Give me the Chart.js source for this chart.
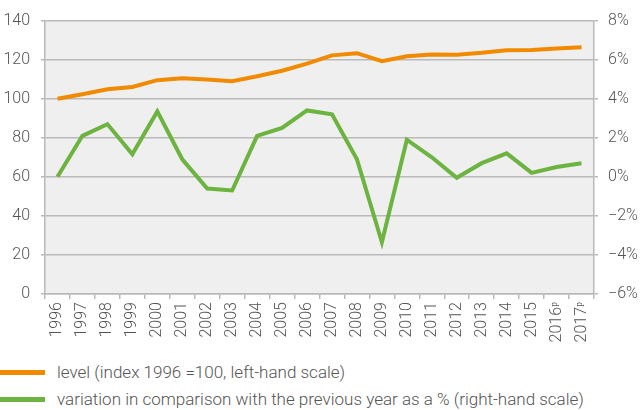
<!DOCTYPE html>
<html>
<head>
<meta charset="utf-8">
<script src="https://cdn.jsdelivr.net/npm/chart.js@4"></script>
<style>
    body { margin: 0; background: #fff; font-family: Roboto, sans-serif; }
    #wrap { position: relative; width: 643px; height: 355px; }
    .legend { position: absolute; left: 0; height: 20px; line-height: 20px; font-size: 17px; color: #555; font-weight: 300; white-space: nowrap; }
    .legend .sw { position: absolute; left: 0; top: 8px; width: 45px; height: 5px; }
    .legend .tx { position: absolute; left: 57px; top: 0; }
</style>
</head>
<body>
<div id="wrap"><canvas id="chart" width="643" height="355"></canvas></div>
<div class="legend" style="top:362px"><span class="sw" style="background:#f28a00"></span><span class="tx">level (index 1996 =100, left-hand scale)</span></div>
<div class="legend" style="top:389px"><span class="sw" style="background:#6cb33f"></span><span class="tx">variation in comparison with the previous year as a % (right-hand scale)</span></div>
<script>
// ===== Index level vs yearly variation =====
const years = ['1996', '1997', '1998', '1999', '2000', '2001', '2002', '2003', '2004', '2005', '2006',
    '2007', '2008', '2009', '2010', '2011', '2012', '2013', '2014', '2015', '2016\u1D56', '2017\u1D56'];
const levelIndex = [100, 102.3, 104.8, 106, 109.5, 110.5, 109.8, 109, 111.5, 114.3, 118,
    122.2, 123.3, 119.2, 121.7, 122.7, 122.5, 123.5, 124.8, 125, 125.7, 126.3];
const variationPct = [0.0, 2.1, 2.7, 1.15, 3.35, 0.9, -0.6, -0.7, 2.1, 2.5, 3.4,
    3.2, 0.9, -3.35, 1.9, 1.0, -0.05, 0.7, 1.2, 0.2, 0.5, 0.7];

const GRID = '#b9b9b9';
const TXT = '#555';
const tickFont = { family: 'Roboto', size: 16, weight: '300' };

// fill plot area with light gray
const plotBg = {
    id: 'plotBg',
    beforeDraw(chart) {
        const { ctx, chartArea: a } = chart;
        ctx.save();
        ctx.fillStyle = '#efefef';
        ctx.fillRect(a.left, a.top, a.right - a.left, a.bottom - a.top);
        ctx.restore();
    }
};

new Chart(document.getElementById('chart'), {
    type: 'line',
    data: {
        labels: years,
        datasets: [
            { label: 'level', data: levelIndex, borderColor: '#f28a00', borderWidth: 4, pointRadius: 0, yAxisID: 'y', tension: 0 },
            { label: 'variation', data: variationPct, borderColor: '#6cb33f', borderWidth: 4, pointRadius: 0, yAxisID: 'y1', tension: 0 }
        ]
    },
    options: {
        responsive: false,
        animation: false,
        layout: { padding: { top: 14 } },
        plugins: { legend: { display: false }, tooltip: { enabled: false } },
        scales: {
            x: {
                offset: true,
                grid: { display: true, drawOnChartArea: false, offset: true, color: GRID, tickLength: 5, lineWidth: 1.5 },
                border: { color: GRID, width: 1.5 },
                ticks: { color: TXT, font: tickFont, minRotation: 90, maxRotation: 90, autoSkip: false, padding: 3 },
                afterFit: s => { s.height = 61; }
            },
            y: {
                position: 'left', min: 0, max: 140,
                grid: { color: GRID, lineWidth: 1.5, tickLength: 4 },
                border: { color: GRID, width: 1.5 },
                ticks: { stepSize: 20, color: TXT, font: tickFont, padding: 11 },
                afterFit: s => { s.width = 45; }
            },
            y1: {
                position: 'right', min: -6, max: 8,
                grid: { drawOnChartArea: false, color: GRID, lineWidth: 1.5, tickLength: 4 },
                border: { color: GRID, width: 1.5 },
                ticks: { stepSize: 2, color: TXT, font: tickFont, padding: 10,
                    callback: v => (v < 0 ? '\u2212' + Math.abs(v) : v) + '%' },
                afterFit: s => { s.width = 49; }
            }
        }
    },
    plugins: [plotBg]
});
</script>
</body>
</html>
